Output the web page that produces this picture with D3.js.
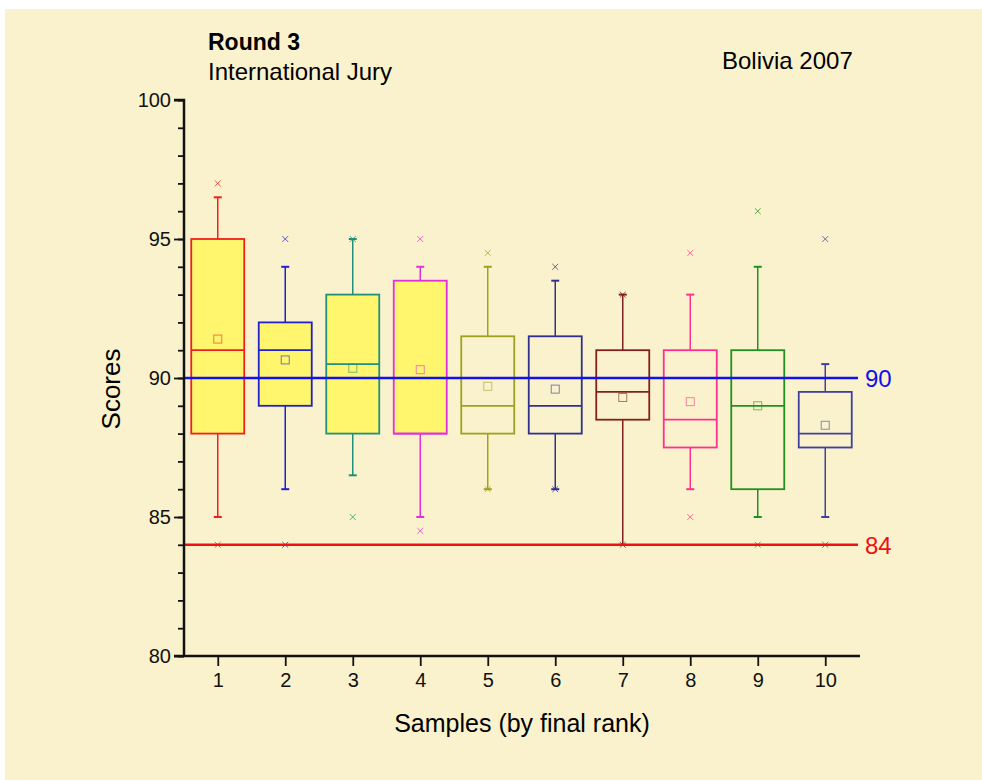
<!DOCTYPE html>
<html>
<head>
<meta charset="utf-8">
<script src="https://cdn.jsdelivr.net/npm/d3@7"></script>
<style>
    body { margin: 0; background: #fff; }
    svg text { font-family: "Liberation Sans", Arial, sans-serif; }
</style>
</head>
<body>
<script>
(function(){

    // box statistics, one entry per sample
    var samples = [1, 2, 3, 4, 5, 6, 7, 8, 9, 10];
    var whiskerHigh = [96.5, 94, 95, 94, 94, 93.5, 93, 93, 94, 90.5];
    var q3 = [95, 92, 93, 93.5, 91.5, 91.5, 91, 91, 91, 89.5];
    var medians = [91, 91, 90.5, 88, 89, 89, 89.5, 88.5, 89, 88];
    var q1 = [88, 89, 88, 88, 88, 88, 88.5, 87.5, 86, 87.5];
    var whiskerLow = [85, 86, 86.5, 85, 86, 86, 84, 86, 85, 85];
    var means = [91.4, 90.65, 90.35, 90.3, 89.7, 89.6, 89.3, 89.15, 89.0, 88.3];
    var maxima = [97, 95, 95, 95, 94.5, 94, 93, 94.5, 96, 95];
    var minima = [84, 84, 85, 84.5, 86, 86, 84, 85, 84, 84];
    var colors = ["#f02020", "#2020d0", "#20907a", "#e030e0", "#a0a020",
                  "#303090", "#802020", "#ff3090", "#209020", "#4040a0"];
    var filled = [true, true, true, true, false, false, false, false, false, false];
    var refLines = [{value: 90, color: "#1010f0"}, {value: 84, color: "#f01010"}];

    var width = 982, height = 780;

    var svg = d3.select("body")
        .append("svg")
        .attr("width", width)
        .attr("height", height);

    svg.append("rect")
        .attr("x", 5)
        .attr("y", 9)
        .attr("width", width - 5)
        .attr("height", height - 9)
        .attr("fill", "#faf2cc");

    var x = d3.scaleLinear().domain([0.5, 10.5]).range([184, 859]);
    var y = d3.scaleLinear().domain([80, 100]).range([656, 100]);

    var boxW = 53, capW = 8;

    var data = samples.map((s, i) => ({
        s: s,
        hi: whiskerHigh[i], q3: q3[i], med: medians[i], q1: q1[i], lo: whiskerLow[i],
        mean: means[i], max: maxima[i], min: minima[i],
        color: colors[i], filled: filled[i]
    }));

    var boxes = svg.selectAll(".box")
        .data(data)
        .enter()
        .append("g")
        .attr("class", "box");

    // whiskers
    boxes.append("line")
        .attr("x1", d => x(d.s)).attr("x2", d => x(d.s))
        .attr("y1", d => y(d.hi)).attr("y2", d => y(d.q3))
        .attr("stroke", d => d.color).attr("stroke-width", 1.5);
    boxes.append("line")
        .attr("x1", d => x(d.s)).attr("x2", d => x(d.s))
        .attr("y1", d => y(d.q1)).attr("y2", d => y(d.lo))
        .attr("stroke", d => d.color).attr("stroke-width", 1.5);
    boxes.append("line")
        .attr("x1", d => x(d.s) - capW / 2).attr("x2", d => x(d.s) + capW / 2)
        .attr("y1", d => y(d.hi)).attr("y2", d => y(d.hi))
        .attr("stroke", d => d.color).attr("stroke-width", 2);
    boxes.append("line")
        .attr("x1", d => x(d.s) - capW / 2).attr("x2", d => x(d.s) + capW / 2)
        .attr("y1", d => y(d.lo)).attr("y2", d => y(d.lo))
        .attr("stroke", d => d.color).attr("stroke-width", 2);

    boxes.append("rect")
        .attr("x", d => x(d.s) - boxW / 2)
        .attr("y", d => y(d.q3))
        .attr("width", boxW)
        .attr("height", d => y(d.q1) - y(d.q3))
        .attr("fill", d => d.filled ? "#fff66e" : "none")
        .attr("stroke", d => d.color)
        .attr("stroke-width", 1.8);

    boxes.append("line")
        .attr("x1", d => x(d.s) - boxW / 2).attr("x2", d => x(d.s) + boxW / 2)
        .attr("y1", d => y(d.med)).attr("y2", d => y(d.med))
        .attr("stroke", d => d.color).attr("stroke-width", 1.8);

    // reference lines go over the boxes
    svg.selectAll(".ref")
        .data(refLines)
        .enter()
        .append("line")
        .attr("class", "ref")
        .attr("x1", 184).attr("x2", 858)
        .attr("y1", d => y(d.value)).attr("y2", d => y(d.value))
        .attr("stroke", d => d.color)
        .attr("stroke-width", 2.5);

    svg.selectAll(".refLabel")
        .data(refLines)
        .enter()
        .append("text")
        .attr("class", "refLabel")
        .attr("x", 865)
        .attr("y", d => y(d.value) + 9)
        .attr("font-size", 24)
        .attr("fill", d => d.color)
        .text(d => d.value);

    // mean squares and extreme crosses
    boxes.append("rect")
        .attr("x", d => x(d.s) - 4)
        .attr("y", d => y(d.mean) - 4)
        .attr("width", 8).attr("height", 8)
        .attr("fill", "none")
        .attr("stroke", d => d.color)
        .attr("stroke-opacity", 0.6)
        .attr("stroke-width", 1);

    var cross = d3.symbol().type(d3.symbolX).size(24);
    ["max", "min"].forEach(k => {
        boxes.append("path")
            .attr("d", cross)
            .attr("transform", d => `translate(${x(d.s)},${y(d[k])})`)
            .attr("fill", "none")
            .attr("stroke", d => d.color)
            .attr("stroke-opacity", 0.75)
            .attr("stroke-width", 1);
    });

    // axes
    var yAxis = svg.append("g")
        .attr("transform", "translate(184,0)")
        .call(d3.axisLeft(y).tickValues([80, 85, 90, 95, 100]).tickSize(10).tickPadding(3));
    svg.append("g")
        .attr("transform", "translate(184,0)")
        .call(d3.axisLeft(y).ticks(20).tickSize(6).tickFormat(""))
        .select(".domain").remove();

    var xAxis = svg.append("g")
        .attr("transform", "translate(0,656)")
        .call(d3.axisBottom(x).tickValues(samples).tickSize(10).tickPadding(7));

    [yAxis, xAxis].forEach(g => {
        g.selectAll("text").attr("font-size", 20).attr("fill", "#111");
    });
    svg.selectAll(".domain").attr("stroke", "#111").attr("stroke-width", 2.5);
    svg.selectAll(".tick line").attr("stroke", "#111").attr("stroke-width", 1.8);
    yAxis.select(".domain").attr("d", "M-10,100H0V656");
    xAxis.select(".domain").attr("d", "M174,0H860");

    // titles
    svg.append("text")
        .attr("x", 208).attr("y", 50)
        .attr("font-size", 23).attr("font-weight", "bold")
        .text("Round 3");
    svg.append("text")
        .attr("x", 208).attr("y", 80)
        .attr("font-size", 24)
        .text("International Jury");
    svg.append("text")
        .attr("x", 722).attr("y", 69)
        .attr("font-size", 24)
        .text("Bolivia 2007");

    svg.append("text")
        .attr("transform", "translate(120,389) rotate(-90)")
        .attr("text-anchor", "middle")
        .attr("font-size", 26)
        .text("Scores");
    svg.append("text")
        .attr("x", 522).attr("y", 732)
        .attr("text-anchor", "middle")
        .attr("font-size", 25)
        .text("Samples (by final rank)");

})();
</script>
</body>
</html>
